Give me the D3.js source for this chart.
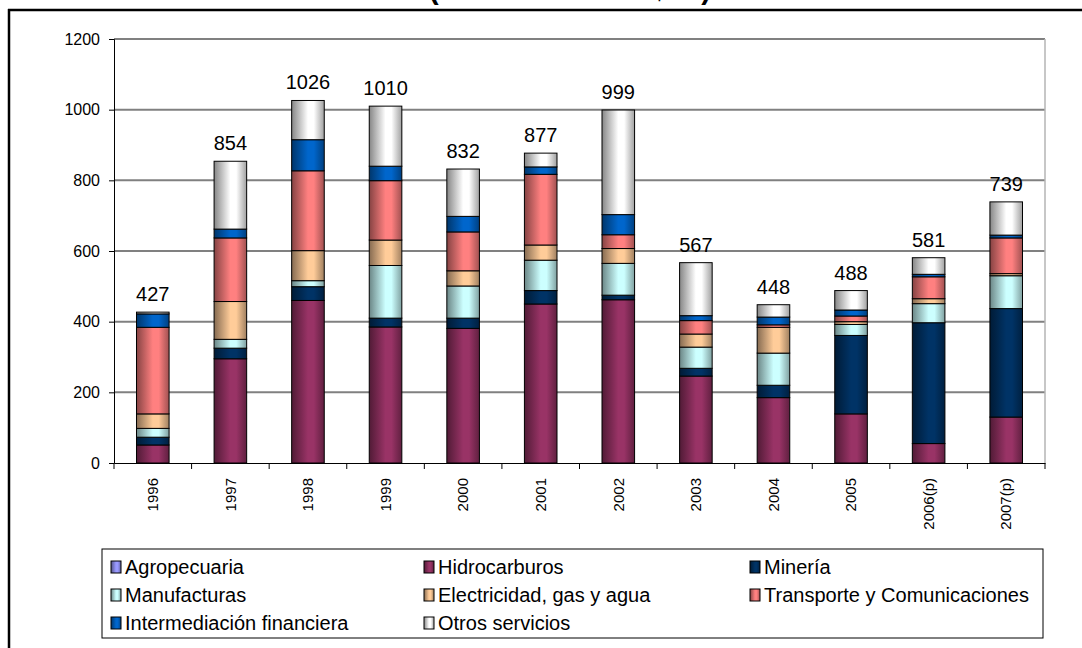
<!DOCTYPE html>
<html>
<head>
<meta charset="utf-8">
<script src="https://cdn.jsdelivr.net/npm/d3@7"></script>
<style>
  body { margin: 0; background: #fff; }
  svg { display: block; font-family: Arial, "Liberation Sans", sans-serif; }
</style>
</head>
<body>
<svg id="chart" width="1082" height="648"></svg>
<script>
const years = ["1996", "1997", "1998", "1999", "2000", "2001", "2002", "2003", "2004", "2005", "2006(p)", "2007(p)"];
const agropecuaria = [0, 0, 0, 0, 0, 0, 0, 0, 0, 0, 0, 0];
const hidrocarburos = [51, 295, 460, 385, 381, 450, 462, 246, 185, 139, 55, 130];
const mineria = [22, 30, 39, 25, 29, 38, 13, 22, 35, 222, 342, 307];
const manufacturas = [25, 25, 17, 149, 91, 86, 90, 60, 91, 31, 54, 93];
const electricidad = [41, 107, 85, 72, 43, 43, 42, 37, 73, 8, 14, 6];
const transporte = [245, 180, 226, 168, 110, 200, 39, 38, 7, 16, 62, 101];
const intermediacion = [38, 25, 88, 41, 44, 21, 57, 14, 22, 17, 7, 8];
const otros = [5, 192, 111, 170, 134, 39, 296, 150, 35, 55, 47, 94];
const totals = [427, 854, 1026, 1010, 832, 877, 999, 567, 448, 488, 581, 739];
const yTicks = [0, 200, 400, 600, 800, 1000, 1200];

const seriesNames = ["Agropecuaria", "Hidrocarburos", "Minería", "Manufacturas",
  "Electricidad, gas y agua", "Transporte y Comunicaciones", "Intermediación financiera", "Otros servicios"];
const seriesValues = [agropecuaria, hidrocarburos, mineria, manufacturas, electricidad, transporte, intermediacion, otros];
const colors = ["#9999FF", "#993366", "#003366", "#CCFFFF", "#FFCC99", "#FF8080", "#0066CC", "#FFFFFF"];

// rows for d3.stack
const rows = years.map((yr, i) => {
  const r = { year: yr, total: totals[i] };
  seriesNames.forEach((s, j) => r[s] = seriesValues[j][i]);
  return r;
});

const svg = d3.select("#chart");
const plot = { left: 114, right: 1045, top: 39, bottom: 463 };

const x = d3.scaleBand().domain(years).range([plot.left, plot.right]);
const y = d3.scaleLinear().domain([0, 1200]).range([plot.bottom, plot.top]);
const barW = x.bandwidth() * 0.42;

// cylinder-ish shading like the old office charts
const defs = svg.append("defs");
colors.forEach((c, i) => {
  const g = defs.append("linearGradient").attr("id", "g" + i)
    .attr("x1", 0).attr("x2", 1).attr("y1", 0).attr("y2", 0);
  g.append("stop").attr("offset", "0%").attr("stop-color", d3.color(c).darker(1.8));
  g.append("stop").attr("offset", "50%").attr("stop-color", c);
  g.append("stop").attr("offset", "68%").attr("stop-color", c);
  g.append("stop").attr("offset", "100%").attr("stop-color", d3.color(c).darker(1.3));
});

// title, mostly cut off by the top of the page (as in the source)
svg.append("text")
  .attr("x", 570).attr("y", -1)
  .attr("text-anchor", "middle")
  .attr("font-weight", "bold").attr("font-size", 29)
  .text("(En millones de $us)");

// outer frame
svg.append("line").attr("x1", 8).attr("x2", 1082).attr("y1", 10).attr("y2", 10)
  .attr("stroke", "#000").attr("stroke-width", 2.5);
svg.append("line").attr("x1", 9).attr("x2", 9).attr("y1", 9).attr("y2", 648)
  .attr("stroke", "#000").attr("stroke-width", 2.5);

// gridlines
svg.append("g")
  .selectAll("line")
  .data(yTicks.filter(d => d > 0))
  .join("line")
  .attr("x1", plot.left).attr("x2", plot.right)
  .attr("y1", d => y(d)).attr("y2", d => y(d))
  .attr("stroke", "#808080").attr("stroke-width", 2);

// plot area right border
svg.append("line").attr("x1", plot.right).attr("x2", plot.right)
  .attr("y1", plot.top).attr("y2", plot.bottom)
  .attr("stroke", "#b4b4b4").attr("stroke-width", 1.5);

// y axis
const yAxis = svg.append("g")
  .attr("transform", `translate(${plot.left},0)`)
  .call(d3.axisLeft(y).tickValues(yTicks).tickSize(5).tickPadding(9).tickFormat(d3.format("d")));
yAxis.selectAll("text").attr("font-size", 16).attr("fill", "#000").attr("font-family", "Arial, 'Liberation Sans', sans-serif");
yAxis.selectAll("line, path").attr("stroke", "#000");

// x axis, ticks between categories
const xAxis = svg.append("g")
  .attr("transform", `translate(0,${plot.bottom})`)
  .call(d3.axisBottom(x).tickSize(0).tickSizeOuter(0).tickPadding(0));
xAxis.select("path").attr("stroke", "#000");
xAxis.selectAll("text")
  .attr("font-size", 15).attr("fill", "#000").attr("font-family", "Arial, 'Liberation Sans', sans-serif")
  .attr("text-anchor", "end")
  .attr("transform", "rotate(-90)")
  .attr("x", -15).attr("y", 0).attr("dy", "0.35em");
xAxis.selectAll(".sep")
  .data(years.map(d => x(d)).concat([plot.right]))
  .join("line")
  .attr("class", "sep")
  .attr("x1", d => d).attr("x2", d => d)
  .attr("y1", 0).attr("y2", 6)
  .attr("stroke", "#000");

// stacked bars
const stack = d3.stack().keys(seriesNames);
const layers = stack(rows);

svg.append("g")
  .selectAll("g")
  .data(layers)
  .join("g")
  .attr("fill", (d, i) => `url(#g${i})`)
  .selectAll("rect")
  .data(d => d.filter(p => p[1] - p[0] > 0))
  .join("rect")
  .attr("x", d => x(d.data.year) + (x.bandwidth() - barW) / 2)
  .attr("width", barW)
  .attr("y", d => y(d[1]))
  .attr("height", d => y(d[0]) - y(d[1]))
  .attr("stroke", "#000").attr("stroke-width", 1);

// totals on top
svg.append("g")
  .selectAll("text")
  .data(rows)
  .join("text")
  .attr("x", d => x(d.year) + x.bandwidth() / 2)
  .attr("y", (d, i) => y(d3.sum(seriesValues, s => s[i])) - 11)
  .attr("text-anchor", "middle")
  .attr("font-size", 20)
  .text(d => d.total);

// legend
const legend = svg.append("g");
legend.append("rect")
  .attr("x", 102).attr("y", 549).attr("width", 941).attr("height", 89)
  .attr("fill", "#fff").attr("stroke", "#000").attr("stroke-width", 1);
const colX = [111, 424, 750];
const rowY = [567, 595, 623];
const items = legend.selectAll("g.item")
  .data(seriesNames)
  .join("g")
  .attr("class", "item")
  .attr("transform", (d, i) => `translate(${colX[i % 3]},${rowY[Math.floor(i / 3)]})`);
items.append("rect")
  .attr("x", 0).attr("y", -6).attr("width", 10).attr("height", 12)
  .attr("fill", (d, i) => `url(#g${i})`)
  .attr("stroke", "#000").attr("stroke-width", 1);
items.append("text")
  .attr("x", 14).attr("y", 0).attr("dy", "0.35em")
  .attr("font-size", 20)
  .text(d => d);
</script>
</body>
</html>
